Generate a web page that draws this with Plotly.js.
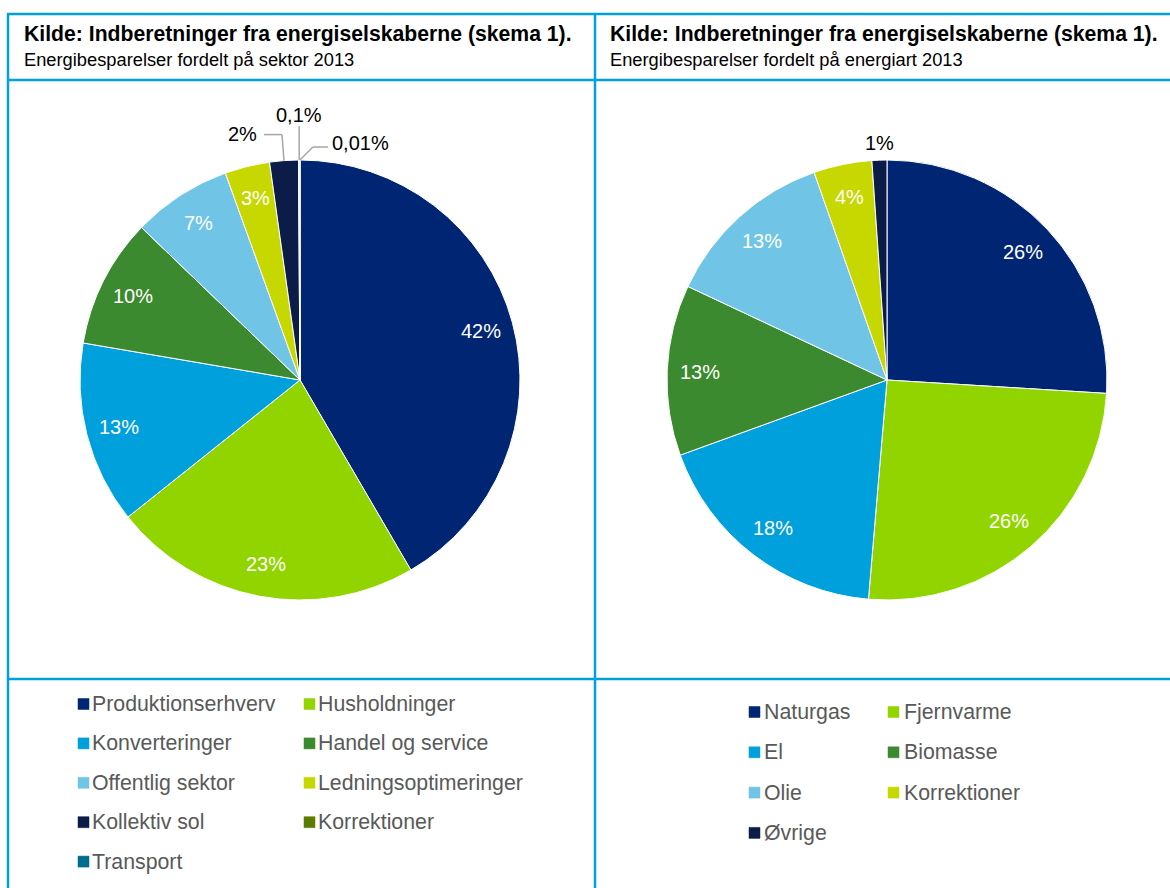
<!DOCTYPE html>
<html>
<head>
<meta charset="utf-8">
<script src="https://cdn.plot.ly/plotly-3.0.1.min.js"></script>
<style>html,body{margin:0;padding:0;background:#fff;}#chart{width:1170px;height:888px;}</style>
</head>
<body>
<div id="chart"></div>
<script>
// ---- Data ----
const titleBold = 'Kilde: Indberetninger fra energiselskaberne (skema 1).';
const leftSubtitle = 'Energibesparelser fordelt på sektor 2013';
const rightSubtitle = 'Energibesparelser fordelt på energiart 2013';

const sectorLabels = ['Produktionserhverv', 'Husholdninger', 'Konverteringer', 'Handel og service',
  'Offentlig sektor', 'Ledningsoptimeringer', 'Kollektiv sol', 'Korrektioner', 'Transport'];
const sectorValues = [41.6, 22.7, 13.4, 9.5, 7.3, 3.3, 2.1, 0.1, 0.01];
const sectorText = ['42%', '23%', '13%', '10%', '7%', '3%', '2%', '0,1%', '0,01%'];
const sectorColors = ['#002673', '#92d400', '#00a0dd', '#3b8a2f', '#70c5e6', '#c6d800', '#0c1c48', '#5a7d00', '#006c8c'];

const energyLabels = ['Naturgas', 'Fjernvarme', 'El', 'Biomasse', 'Olie', 'Korrektioner', 'Øvrige'];
const energyValues = [26.1, 25.5, 18.2, 12.6, 12.7, 4.3, 1.1];
const energyText = ['26%', '26%', '18%', '13%', '13%', '4%', '1%'];
const energyColors = ['#002673', '#92d400', '#00a0dd', '#3b8a2f', '#70c5e6', '#c6d800', '#0c1c48'];

// ---- Layout helpers ----
const W = 1170, H = 888;
const px = x => x / W;
const py = y => 1 - y / H;
const FONT = 'Liberation Sans, Arial, sans-serif';
const BORDER = '#00a0dc';
const LEADER = '#a6a6a6';

const R = 220;
const leftC = [300, 380], rightC = [887, 380];
function domainFor(c) {
  return {x: [px(c[0] - R), px(c[0] + R)], y: [py(c[1] + R), py(c[1] - R)]};
}

function pieTrace(labels, values, colors, c) {
  return {
    type: 'pie', labels: labels, values: values, textinfo: 'none',
    sort: false, direction: 'clockwise', rotation: 0,
    marker: {colors: colors, line: {color: '#ffffff', width: 1}},
    domain: domainFor(c), showlegend: false, hoverinfo: 'label+percent'
  };
}
const traces = [
  pieTrace(sectorLabels, sectorValues, sectorColors, leftC),
  pieTrace(energyLabels, energyValues, energyColors, rightC)
];

const shapes = [];
const annotations = [];

// borders
[14, 80, 679].forEach(y => shapes.push({type: 'line', xref: 'paper', yref: 'paper',
  x0: px(7), x1: px(1170), y0: py(y), y1: py(y), line: {color: BORDER, width: 2.5}}));
[8, 595].forEach(x => shapes.push({type: 'line', xref: 'paper', yref: 'paper',
  x0: px(x), x1: px(x), y0: py(14), y1: py(888), line: {color: BORDER, width: 2.5}}));

// titles
[[22, leftSubtitle], [608, rightSubtitle]].forEach(([x, sub]) => {
  annotations.push({xref: 'paper', yref: 'paper', x: px(x), y: py(34), xanchor: 'left', yanchor: 'middle',
    text: '<b>' + titleBold + '</b>', showarrow: false, font: {family: FONT, size: 21.2, color: '#000'}});
  annotations.push({xref: 'paper', yref: 'paper', x: px(x), y: py(59), xanchor: 'left', yanchor: 'middle',
    text: sub, showarrow: false, font: {family: FONT, size: 18.3, color: '#000'}});
});

function seg(x0, y0, x1, y1) {
  shapes.push({type: 'line', xref: 'paper', yref: 'paper', x0: px(x0), y0: py(y0), x1: px(x1), y1: py(y1),
    line: {color: LEADER, width: 1.5}});
}

// data labels placed from cumulative slice angles
function sliceLabels(values, texts, c, smallCount, offsets) {
  const total = values.reduce((a, b) => a + b, 0);
  let cum = 0;
  values.forEach((v, i) => {
    const mid = (cum + v / 2) / total;
    cum += v;
    const th = mid * 2 * Math.PI;
    const k = i - (values.length - smallCount);
    if (k < 0) {
      const r = 0.85 * R;
      annotations.push({xref: 'paper', yref: 'paper', xanchor: 'center', yanchor: 'middle',
        x: px(c[0] + r * Math.sin(th)), y: py(c[1] - r * Math.cos(th)),
        text: texts[i], showarrow: false, font: {family: FONT, size: 20, color: '#ffffff'}});
    } else {
      const ex = c[0] + R * Math.sin(th), ey = c[1] - R * Math.cos(th);
      const o = offsets[k];
      if (o.elbow) {
        seg(ex, ey, ex + o.elbow[0], ey + o.elbow[1]);
        if (o.end) seg(ex + o.elbow[0], ey + o.elbow[1], ex + o.end[0], ey + o.end[1]);
      }
      annotations.push({xref: 'paper', yref: 'paper', xanchor: 'center', yanchor: 'middle',
        x: px(ex + o.text[0]), y: py(ey + o.text[1]), text: texts[i], showarrow: false,
        font: {family: FONT, size: 20, color: '#000'}});
    }
  });
}
sliceLabels(sectorValues, sectorText, leftC, 3, [
  {elbow: [-2, -26], end: [-20, -26], text: [-41, -27]},
  {elbow: [0, -34], text: [0, -45]},
  {elbow: [13, -13], end: [28, -13], text: [61, -17]}
]);
sliceLabels(energyValues, energyText, rightC, 1, [{text: [0, -17]}]);

// custom legends (two columns)
function legend(labels, colors, opt) {
  labels.forEach((lab, i) => {
    const col = i % 2, row = Math.floor(i / 2);
    const y = opt.y0 + row * opt.dy;
    const mx = opt.mx[col];
    shapes.push({type: 'rect', xref: 'paper', yref: 'paper',
      x0: px(mx), x1: px(mx + 11), y0: py(y + 5.5), y1: py(y - 5.5),
      fillcolor: colors[i], line: {color: colors[i], width: 0.5}});
    annotations.push({xref: 'paper', yref: 'paper', x: px(opt.tx[col]), y: py(y), xanchor: 'left', yanchor: 'middle',
      text: lab, showarrow: false, font: {family: FONT, size: 21.3, color: '#595959'}});
  });
}
legend(sectorLabels, sectorColors, {y0: 704, dy: 39.4, mx: [78, 304], tx: [90, 316]});
legend(energyLabels, energyColors, {y0: 712, dy: 40.3, mx: [749, 888], tx: [762, 902]});

const layout = {
  width: W, height: H, margin: {l: 0, r: 0, t: 0, b: 0},
  paper_bgcolor: '#ffffff', plot_bgcolor: '#ffffff',
  showlegend: false, shapes: shapes, annotations: annotations,
  font: {family: FONT}
};
Plotly.newPlot('chart', traces, layout, {displayModeBar: false, staticPlot: true});
</script>
</body>
</html>
